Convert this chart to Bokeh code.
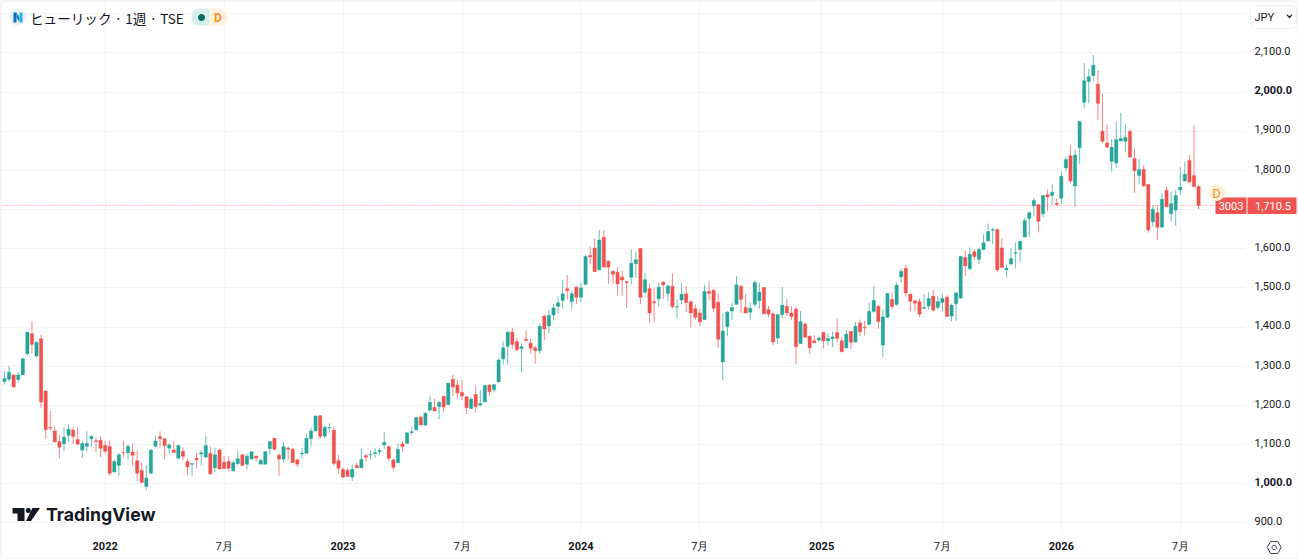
from bokeh.plotting import figure
from bokeh.embed import file_html
from bokeh.resources import INLINE
from bokeh.models import (ColumnDataSource, FixedTicker, NumeralTickFormatter, Label, Span,
                          BoxAnnotation, PolyAnnotation, LinearAxis, Range1d)
import math

# Weekly candles, oldest first (JPY)
direction = ("GGRGGGRGRR" "RRRGGRRGGG" "RRRRGGRGRR" "RGGGRRGRGR" "RGRGGRGRRR"
             "GGRGGRGGGR" "RGRRRGGGGR" "GGRRRRGRGR" "GGGGRRGRGG" "GRGGRGRGRR"
             "RRGRGGRGGG" "GRRGRRRGRG" "GGGRGRGGRR" "GRRRRRRGGR" "GRRGRGRGGR"
             "RRRGRRRGGG" "GRRGGGRRRG" "GRRRGRRRGR" "GGRRGRGRRG" "GRGGRGGRRR"
             "RGGRGGRGGG" "RGRGGGGRRG" "GGGGGGRGRG" "RGGRGGGGGR" "RRGGGGRRGR"
             "RGRGRGGGGR" "RR")
high_prices = [
    1288,1301,1280,1285,1321,1388,1415,1364,1380,1238,
    1186,1145,1124,1144,1150,1144,1144,1109,1134,1124,
    1118,1122,1109,1111,1062,1079,1109,1101,1103,1085,
    1054,1048,1088,1123,1134,1116,1104,1109,1098,1093,
    1064,1052,1080,1085,1123,1095,1092,1090,1070,1070,
    1060,1085,1076,1077,1083,1072,1062,1083,1109,1117,
    1079,1108,1096,1091,1065,1091,1128,1144,1174,1175,
    1148,1154,1147,1073,1042,1041,1049,1055,1091,1076,
    1085,1091,1091,1131,1097,1064,1103,1109,1132,1144,
    1171,1174,1183,1225,1217,1212,1225,1258,1278,1266,
    1265,1224,1221,1250,1239,1253,1255,1255,1320,1364,
    1389,1398,1373,1359,1391,1370,1352,1410,1432,1444,
    1459,1478,1521,1533,1491,1504,1513,1585,1606,1626,
    1648,1648,1570,1545,1552,1544,1517,1598,1592,1601,
    1539,1511,1499,1513,1517,1507,1537,1471,1512,1505,
    1466,1458,1447,1508,1517,1496,1486,1435,1441,1463,
    1530,1508,1484,1463,1519,1512,1502,1454,1437,1432,
    1502,1471,1453,1453,1441,1413,1378,1379,1376,1388,
    1385,1388,1422,1374,1394,1390,1413,1419,1416,1462,
    1504,1457,1445,1487,1488,1514,1550,1559,1484,1470,
    1473,1484,1489,1495,1479,1484,1481,1460,1490,1582,
    1596,1603,1598,1603,1637,1664,1654,1652,1626,1560,
    1601,1615,1619,1679,1695,1730,1713,1737,1751,1764,
    1728,1797,1836,1864,1853,1925,2074,2059,2094,2056,
    1995,1917,1880,1925,1947,1919,1904,1856,1830,1813,
    1766,1711,1711,1742,1758,1745,1751,1808,1823,1839,
    1914,1762]
body_top = [
    1269,1285,1278,1278,1319,1387,1383,1361,1370,1237,
    1144,1135,1108,1119,1139,1137,1113,1103,1103,1121,
    1110,1111,1098,1095,1057,1074,1080,1096,1081,1059,
    1034,1015,1086,1109,1121,1115,1099,1086,1098,1083,
    1057,1052,1065,1079,1098,1078,1074,1086,1055,1057,
    1054,1064,1074,1070,1082,1071,1060,1082,1108,1116,
    1073,1095,1091,1088,1061,1078,1116,1135,1173,1174,
    1144,1144,1137,1059,1037,1034,1037,1047,1062,1072,
    1075,1080,1085,1106,1095,1061,1088,1102,1130,1133,
    1169,1170,1180,1208,1195,1208,1223,1257,1267,1252,
    1233,1222,1216,1228,1205,1251,1252,1253,1316,1347,
    1387,1387,1363,1350,1369,1359,1347,1402,1428,1430,
    1449,1462,1485,1498,1485,1502,1500,1580,1583,1602,
    1622,1629,1568,1542,1540,1528,1516,1563,1572,1601,
    1521,1498,1465,1502,1515,1505,1504,1452,1484,1485,
    1465,1447,1436,1491,1491,1494,1463,1390,1438,1450,
    1508,1504,1450,1448,1514,1489,1501,1445,1434,1432,
    1456,1453,1436,1446,1414,1408,1377,1365,1372,1386,
    1371,1375,1386,1365,1382,1389,1402,1411,1399,1440,
    1468,1453,1426,1486,1471,1507,1542,1550,1484,1467,
    1465,1450,1473,1479,1465,1473,1476,1456,1487,1580,
    1578,1586,1592,1598,1615,1644,1649,1649,1602,1550,
    1575,1590,1619,1672,1692,1723,1713,1736,1738,1744,
    1716,1785,1828,1837,1839,1925,2029,2039,2068,2020,
    1900,1870,1859,1879,1881,1884,1900,1830,1802,1802,
    1764,1701,1692,1726,1749,1715,1736,1757,1790,1825,
    1787,1759]
body_bottom = [
    1261,1267,1247,1266,1278,1332,1356,1326,1209,1138,
    1142,1107,1093,1102,1124,1121,1101,1086,1096,1115,
    1108,1091,1083,1027,1030,1047,1079,1079,1073,1027,
    1003,993,1027,1096,1115,1097,1091,1080,1065,1070,
    1043,1050,1061,1076,1068,1025,1041,1038,1039,1040,
    1033,1052,1047,1050,1063,1066,1050,1050,1090,1088,
    1063,1063,1088,1054,1050,1076,1078,1115,1135,1121,
    1122,1143,1052,1040,1017,1019,1017,1041,1041,1068,
    1074,1077,1082,1099,1065,1042,1054,1095,1103,1131,
    1138,1150,1150,1188,1186,1197,1196,1202,1247,1232,
    1224,1194,1192,1197,1201,1209,1235,1240,1260,1319,
    1351,1356,1342,1345,1366,1346,1340,1340,1395,1403,
    1431,1453,1468,1493,1465,1476,1476,1509,1579,1542,
    1546,1553,1553,1535,1510,1520,1513,1527,1562,1476,
    1489,1436,1462,1472,1508,1486,1452,1451,1469,1463,
    1436,1425,1413,1419,1486,1448,1369,1311,1401,1441,
    1458,1471,1436,1438,1458,1467,1434,1433,1362,1372,
    1432,1436,1427,1350,1358,1374,1347,1360,1367,1365,
    1365,1371,1371,1337,1347,1361,1362,1388,1398,1407,
    1440,1414,1354,1425,1452,1458,1528,1487,1466,1461,
    1433,1448,1454,1443,1450,1463,1427,1428,1460,1474,
    1556,1549,1580,1573,1598,1620,1647,1546,1552,1546,
    1561,1588,1598,1630,1677,1709,1670,1689,1732,1736,
    1713,1729,1806,1773,1760,1858,1974,2027,2042,1971,
    1874,1859,1823,1819,1875,1874,1834,1799,1787,1760,
    1648,1669,1655,1655,1707,1689,1699,1750,1773,1770,
    1759,1710.5]
low_prices = [
    1253,1261,1245,1258,1277,1327,1333,1322,1194,1115,
    1137,1106,1066,1083,1107,1101,1100,1066,1083,1094,
    1081,1068,1077,1020,1029,1020,1067,1062,1046,1007,
    1003,983,1026,1094,1093,1062,1079,1080,1064,1060,
    1022,1020,1039,1047,1067,1024,1029,1037,1038,1032,
    1032,1047,1046,1037,1062,1056,1050,1049,1075,1087,
    1021,1053,1062,1053,1043,1066,1077,1096,1134,1115,
    1115,1130,1047,1026,1015,1017,1007,1040,1040,1058,
    1062,1067,1074,1089,1058,1034,1053,1082,1103,1124,
    1136,1149,1148,1184,1186,1165,1183,1201,1224,1217,
    1214,1178,1191,1183,1198,1209,1225,1233,1259,1304,
    1304,1345,1339,1284,1363,1333,1306,1332,1366,1383,
    1417,1434,1447,1470,1446,1459,1463,1508,1560,1540,
    1545,1552,1510,1511,1481,1480,1448,1509,1525,1459,
    1485,1411,1413,1452,1472,1466,1447,1423,1458,1438,
    1399,1419,1402,1419,1470,1438,1346,1264,1377,1418,
    1458,1436,1435,1418,1452,1447,1433,1425,1354,1358,
    1423,1428,1418,1305,1357,1373,1332,1359,1362,1345,
    1353,1349,1361,1337,1346,1344,1361,1377,1379,1406,
    1436,1395,1324,1424,1446,1454,1513,1478,1440,1440,
    1426,1446,1444,1440,1444,1439,1427,1415,1416,1473,
    1530,1546,1570,1561,1597,1620,1612,1540,1552,1527,
    1558,1550,1568,1629,1630,1682,1644,1680,1697,1711,
    1710,1715,1798,1766,1707,1817,1959,1971,2027,1930,
    1870,1858,1797,1808,1875,1847,1832,1742,1766,1759,
    1641,1656,1623,1654,1706,1670,1658,1738,1772,1768,
    1756,1701]
last_price = 1710.5
time_tick_weeks = [22, 48, 74, 100, 126, 152, 178.6, 205, 231, 257]
time_tick_labels = ["2022", "7月", "2023", "7月", "2024", "7月", "2025", "7月", "2026", "7月"]
bold_time_ticks = ["2022", "2023", "2024", "2025", "2026"]
price_ticks = [900, 1000, 1100, 1200, 1300, 1400, 1500, 1600, 1700, 1800, 1900, 2000, 2100, 2200]
bold_price_ticks = [1000, 2000]
hidden_price_ticks = [1700, 2200]
header_text = "ヒューリック · 1週 · TSE"

UP, DOWN = "#26a69a", "#ef5350"
TEXT = "#131722"
GRID = "#f3f4f6"
FONT = "Roboto"
W, H = 1298, 559
PANE_R, PANE_B = 1244, 533
PX_WEEK, PX_YEN = 4.575, 0.3918
Y1000 = 483.3
LABEL_LIFT = 1.7  # the price labels sit a little above their grid lines

week = list(range(len(high_prices)))
colors = [UP if d == "G" else DOWN for d in direction]
source = ColumnDataSource(dict(week=week, high=high_prices, low=low_prices,
                               top=body_top, bottom=body_bottom, color=colors))

# The frame fills the canvas; the axes sit on fixed locations at the pane's edges
x_start = -4 / PX_WEEK
x_end = (W - 4) / PX_WEEK
y_end = 1000 + Y1000 / PX_YEN
y_start = 1000 - (H - Y1000) / PX_YEN

p = figure(width=W, height=H, x_range=(x_start, x_end), y_range=(y_start, y_end),
           y_axis_location="right", toolbar_location=None, output_backend="svg",
           min_border=0, background_fill_color="white", border_fill_color="white",
           outline_line_color=None,
           styles={"position": "absolute", "left": "0px", "top": "0px"})

p.xgrid.grid_line_color = GRID
p.ygrid.grid_line_color = GRID


def sy(y):
    return H - y


def label(x, y, text, **kw):
    opts = dict(x=x, y=sy(y), x_units="screen", y_units="screen", text=text, text_font=FONT,
                text_font_size="11px", text_color=TEXT, text_baseline="middle", text_align="left")
    opts.update(kw)
    p.add_layout(Label(**opts))


def box(l, r, t, b, **kw):
    opts = dict(left=l, right=r, top=sy(t), bottom=sy(b), left_units="screen", right_units="screen",
                top_units="screen", bottom_units="screen", line_color=None, line_alpha=1, fill_alpha=1)
    opts.update(kw)
    p.add_layout(BoxAnnotation(**opts))


def poly(pts, fill, line=None, line_width=1):
    p.add_layout(PolyAnnotation(xs=[a for a, _ in pts], ys=[sy(b) for _, b in pts],
                                xs_units="screen", ys_units="screen",
                                fill_color=fill, fill_alpha=1 if fill else 0,
                                line_color=line, line_alpha=1, line_width=line_width))


def ring(cx, cy, r, n=24, phase=0.0):
    return [(cx + r * math.cos(phase + 2 * math.pi * k / n), cy + r * math.sin(phase + 2 * math.pi * k / n))
            for k in range(n)]


# White covers keep the grid out of the axis panes
box(PANE_R + 1, W, 0, H, fill_color="white", level="underlay")
box(0, W, PANE_B, H, fill_color="white", level="underlay")

p.segment("week", "high", "week", "low", source=source, color="color", line_width=1, line_alpha=0.7)
p.vbar("week", 0.72, "top", "bottom", source=source, fill_color="color", line_color="color", line_width=0.4)

# Axes
xa = p.xaxis[0]
xa.ticker = FixedTicker(ticks=time_tick_weeks)
xa.major_label_overrides = {t: ("" if l in bold_time_ticks else l) for t, l in zip(time_tick_weeks, time_tick_labels)}
xa.fixed_location = 1000 - (PANE_B - Y1000) / PX_YEN

price_tick_source = FixedTicker(ticks=price_ticks)
p.yaxis[0].ticker = price_tick_source
p.yaxis[0].visible = False
lift = LABEL_LIFT / PX_YEN
p.extra_y_ranges = {"labels": Range1d(y_start - lift, y_end - lift)}
ya = LinearAxis(y_range_name="labels", ticker=price_tick_source,
                formatter=NumeralTickFormatter(format="0,0.0"),
                major_label_overrides={t: "" for t in bold_price_ticks + hidden_price_ticks},
                fixed_location=(PANE_R - 4) / PX_WEEK)
p.add_layout(ya, "right")
for a in (xa, ya):
    a.axis_line_color = None
    a.major_tick_line_color = None
    a.minor_tick_line_color = None
    a.major_tick_in = 0
    a.major_tick_out = 0
    a.major_label_text_font = FONT
    a.major_label_text_font_size = "11px"
    a.major_label_text_color = TEXT
xa.major_label_standoff = 6
ya.major_label_standoff = 10

# Bold tick labels
for t, l in zip(time_tick_weeks, time_tick_labels):
    if l in bold_time_ticks:
        label(4 + PX_WEEK * t, 545.5, l, text_align="center", text_font_style="bold")
for t in bold_price_ticks:
    label(PANE_R + 10, Y1000 - (t - 1000) * PX_YEN - LABEL_LIFT, f"{t:,.1f}", text_font_style="bold")

# Last price line and tags
p.add_layout(Span(location=last_price, dimension="width", line_color=DOWN, line_width=1,
                  line_dash="1 2", line_alpha=0.7))
box(1215, 1246, 197, 213.5, fill_color=DOWN)
box(1247, 1296, 197, 213.5, fill_color=DOWN)
label(1230.5, 205, "3003", text_color="white", text_align="center")
label(1272.5, 205, "1,710.5", text_color="white", text_align="center")
poly(ring(1216, 192, 8.5), "#fff0dc")
label(1216, 192.5, "D", text_color="#f7931e", text_align="center", text_font_size="13px")

# Header
poly(ring(17.5, 17, 8.5), "#eef2fb")
poly([(13, 12), (16, 12), (16, 22), (13, 22)], "#0f6fc0")
poly([(16, 12), (19, 17), (19, 22), (16, 17)], "#1487c9")
poly([(19, 12), (22, 12), (22, 22), (19, 22)], "#29b6e8")
label(29.5, 17, header_text, text_font="Noto Sans CJK JP", text_font_size="13.6px")
box(191, 209, 8, 25, fill_color="#d6efeb", border_radius=(8, 0, 0, 8))
box(209, 227, 8, 25, fill_color="#fff1df", border_radius=(0, 8, 8, 0))
poly(ring(201, 17, 3.5), "#0b6b5c")
label(217.5, 17, "D", text_color="#f7931e", text_align="center", text_font_style="bold", text_font_size="12px")

# JPY button
box(1250, 1296, 5, 28, fill_color="white", line_color="#eceef2", line_width=1, border_radius=5)
label(1254, 17, "JPY", text_font_size="11px")
poly([(1286, 14.5), (1287, 14), (1289, 16), (1291, 14), (1292, 14.5), (1289, 18)], "#131722")

# Settings icon
poly(ring(1273.7, 547, 7, n=6), None, line="#3b3f4a", line_width=1)
poly(ring(1273.7, 547, 2.2, n=12), None, line="#3b3f4a", line_width=1)

# TradingView mark and wordmark
poly([(12, 507.5), (24, 507.5), (24, 520.5), (17, 520.5), (17, 513), (12, 513)], "#131722")
poly(ring(27.8, 510, 2.6), "#131722")
poly([(32, 507.5), (39.5, 507.5), (30.5, 520.5), (25.5, 520.5)], "#131722")
label(45.5, 514, "TradingView", text_font="Inter", text_font_style="bold", text_font_size="17.7px")

# Page frame
box(0, W, 0, H, fill_alpha=0, line_color="#e7e9ef", line_width=2)

open("out.html", "w").write(file_html(p, INLINE))
